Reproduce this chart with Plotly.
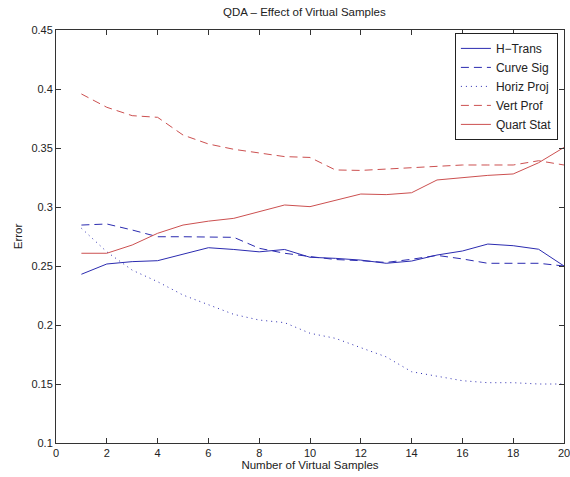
import plotly.graph_objects as go

x = list(range(1, 21))
h_trans = [0.243, 0.2517, 0.2537, 0.2545, 0.260, 0.2655, 0.264, 0.262, 0.264, 0.2574,
           0.2565, 0.255, 0.2523, 0.2542, 0.2593, 0.2627, 0.2686, 0.2672, 0.2642, 0.250]
curve_sig = [0.2847, 0.2856, 0.2805, 0.2748, 0.2748, 0.2748, 0.2743, 0.265, 0.2608, 0.258,
             0.2555, 0.2545, 0.253, 0.2557, 0.259, 0.256, 0.2523, 0.2523, 0.2523, 0.250]
horiz_proj = [0.282, 0.262, 0.2465, 0.2367, 0.2254, 0.217, 0.209, 0.2042, 0.202, 0.193,
              0.1887, 0.1808, 0.173, 0.1604, 0.1568, 0.1528, 0.1511, 0.1511, 0.150, 0.150]
vert_prof = [0.3958, 0.3845, 0.3774, 0.376, 0.361, 0.3534, 0.3489, 0.346, 0.3427, 0.342,
             0.3314, 0.331, 0.332, 0.3336, 0.334, 0.3356, 0.3356, 0.3356, 0.3392, 0.3356]
quart_stat = [0.2608, 0.2608, 0.2678, 0.2777, 0.2847, 0.288, 0.2904, 0.296, 0.3017, 0.3003,
              0.3059, 0.311, 0.3105, 0.3121, 0.3229, 0.3251, 0.3268, 0.328, 0.3375, 0.3505]

BLUE = "#2b2bb0"
RED = "#cc5050"

series = [
    ("H\u2212Trans", h_trans, BLUE, "solid"),
    ("Curve Sig", curve_sig, BLUE, "8px,5px"),
    ("Horiz Proj", horiz_proj, BLUE, "1px,4px"),
    ("Vert Prof", vert_prof, RED, "8px,5px"),
    ("Quart Stat", quart_stat, RED, "solid"),
]

fig = go.Figure()
for name, ys, color, dash in series:
    fig.add_trace(go.Scatter(x=x, y=ys, mode="lines", name=name,
                             line=dict(color=color, width=1, dash=dash)))

FONT = "Liberation Sans, Arial, sans-serif"
axis_common = dict(showline=True, linecolor="#333", linewidth=1, mirror="ticks",
                   ticks="inside", ticklen=5, tickcolor="#333", showgrid=False,
                   zeroline=False, automargin=False, ticklabeloverflow="allow",
                   tickfont=dict(size=11, color="#222"))

fig.update_layout(
    width=570, height=477,
    margin=dict(l=56, r=6, t=30, b=34),
    paper_bgcolor="white", plot_bgcolor="white",
    font=dict(family=FONT, size=11, color="#222"),
    title=dict(text="QDA \u2013 Effect of Virtual Samples", x=0.534, xanchor="center",
               yref="container", y=1 - 12 / 477, yanchor="middle",
               font=dict(size=11.5, family=FONT), automargin=False),
    xaxis=dict(range=[0, 20], tickvals=list(range(0, 21, 2)),
               title=dict(text="Number of Virtual Samples", standoff=1, font=dict(size=11.5)),
               **axis_common),
    yaxis=dict(range=[0.1, 0.45], tickvals=[0.1, 0.15, 0.2, 0.25, 0.3, 0.35, 0.4, 0.45],
               ticktext=["0.1", "0.15", "0.2", "0.25", "0.3", "0.35", "0.4", "0.45"],
               title=dict(text="Error", standoff=6, font=dict(size=11.5)),
               **axis_common),
    legend=dict(x=0.988, y=0.993, xanchor="right", yanchor="top",
                bgcolor="white", bordercolor="#222", borderwidth=1,
                font=dict(size=12), tracegroupgap=0, itemwidth=30),
    showlegend=True,
)

fig.write_html("out.html", config={"displayModeBar": False},
               post_script="document.body.style.margin='0';document.body.style.overflow='hidden';")
